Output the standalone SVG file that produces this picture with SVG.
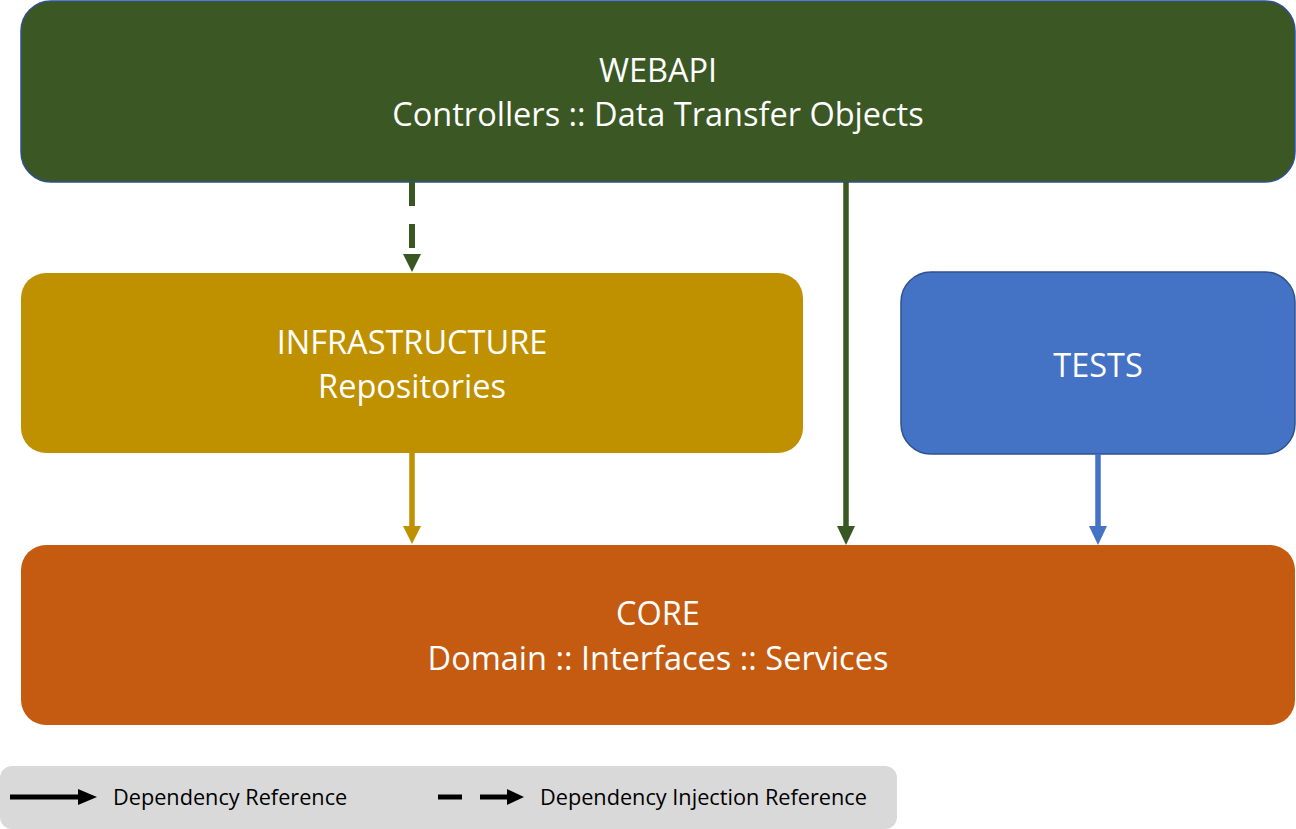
<svg xmlns="http://www.w3.org/2000/svg" width="1296" height="829" viewBox="0 0 1296 829">
<defs>
<style>
.t{font-family:"Open Sans","Noto Sans",sans-serif;fill:#fff;font-size:32.5px;text-anchor:middle}
.l{font-family:"Open Sans","Noto Sans",sans-serif;fill:#000;font-size:21.7px}
</style>
</defs>
<rect width="1296" height="829" fill="#fff"/>
<g id="webapi"><rect x="21" y="1" width="1274" height="181" rx="30" fill="#3A5724" stroke="#2F528F" stroke-width="1.5"/><text class="t" x="658" y="82">WEBAPI</text><text class="t" x="658" y="126">Controllers :: Data Transfer Objects</text></g>
<g id="infrastructure"><rect x="21" y="273" width="782" height="180" rx="25" fill="#BF9000"/><text class="t" x="412" y="354">INFRASTRUCTURE</text><text class="t" x="412" y="398">Repositories</text></g>
<g id="tests"><rect x="901" y="272" width="394" height="182" rx="30" fill="#4472C4" stroke="#2F528F" stroke-width="1.5"/><text class="t" x="1098" y="377">TESTS</text></g>
<g id="core"><rect x="21" y="545" width="1274" height="180" rx="25" fill="#C55A11"/><text class="t" x="658" y="625">CORE</text><text class="t" x="658" y="670">Domain :: Interfaces :: Services</text></g>
<g id="connectors">
<line x1="412" y1="182" x2="412" y2="254" stroke="#385723" stroke-width="6" stroke-dasharray="24 18"/>
<polygon points="403,254 421,254 412,272" fill="#385723"/>
<line x1="412" y1="453" x2="412" y2="527" stroke="#BF9000" stroke-width="5.5"/>
<polygon points="403,526 421,526 412,544" fill="#BF9000"/>
<line x1="846" y1="182" x2="846" y2="527" stroke="#385723" stroke-width="5.5"/>
<polygon points="837,526 855,526 846,545" fill="#385723"/>
<line x1="1098" y1="454" x2="1098" y2="527" stroke="#4472C4" stroke-width="5.5"/>
<polygon points="1089,526 1107,526 1098,545" fill="#4472C4"/>
</g>
<g id="legend">
<rect x="0" y="766" width="897" height="63" rx="12" fill="#D9D9D9"/>
<line x1="10" y1="797" x2="80" y2="797" stroke="#000" stroke-width="5"/>
<polygon points="78,789 97,797 78,805" fill="#000"/>
<text class="l" x="113" y="805">Dependency Reference</text>
<line x1="438" y1="797" x2="462" y2="797" stroke="#000" stroke-width="5"/>
<line x1="480" y1="797" x2="509" y2="797" stroke="#000" stroke-width="5"/>
<polygon points="507,789 524,797 507,805" fill="#000"/>
<text class="l" x="540" y="805">Dependency Injection Reference</text>
</g>
</svg>
